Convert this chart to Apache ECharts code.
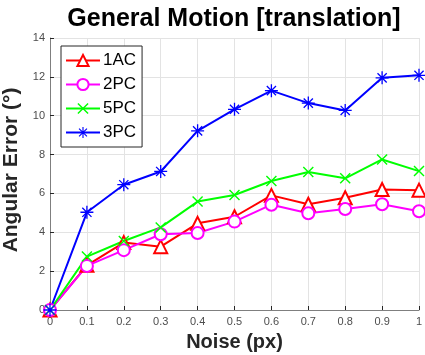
<!DOCTYPE html>
<html>
<head>
<meta charset="utf-8">
<script src="https://cdn.jsdelivr.net/npm/echarts@6/dist/echarts.min.js"></script>
<style>html,body{margin:0;padding:0;background:#fff}#c{width:425px;height:355px}</style>
</head>
<body>
<div id="c"></div>
<script>
var xLabels = ['0','0.1','0.2','0.3','0.4','0.5','0.6','0.7','0.8','0.9','1'];
var s1AC = [0, 2.3, 3.47, 3.26, 4.46, 4.8, 5.9, 5.44, 5.78, 6.2, 6.17];
var s2PC = [0, 2.27, 3.08, 3.9, 3.96, 4.55, 5.42, 4.98, 5.2, 5.44, 5.08];
var s5PC = [0, 2.75, 3.55, 4.25, 5.58, 5.92, 6.64, 7.1, 6.78, 7.75, 7.15];
var s3PC = [0, 5.03, 6.45, 7.13, 9.22, 10.33, 11.29, 10.65, 10.27, 11.95, 12.08];
var yTicks = {min: 0, max: 14, interval: 2};

var xPath = 'path://M3.64,2.22L17.78,16.36L16.36,17.78L2.22,3.64Z M17.78,3.64L3.64,17.78L2.22,16.36L16.36,2.22Z';
var starPath = 'path://M0,9L20,9L20,11L0,11Z M9,0L11,0L11,20L9,20Z M3.64,2.22L17.78,16.36L16.36,17.78L2.22,3.64Z M17.78,3.64L3.64,17.78L2.22,16.36L16.36,2.22Z';

function mk(name, data, color, symbol, size, hollow) {
  return {
    name: name, type: 'line', data: data, symbol: symbol, symbolSize: size,
    showAllSymbol: true,
    lineStyle: {color: color, width: 2},
    itemStyle: hollow ? {color: '#fff', borderColor: color, borderWidth: 2, opacity: 1} : {color: color, borderWidth: 0},
    emphasis: {disabled: true},
    animation: false
  };
}

var chart = echarts.init(document.getElementById('c'), null, {renderer: 'canvas'});
chart.setOption({
  animation: false,
  backgroundColor: '#fff',
  title: {
    text: 'General Motion [translation]',
    left: 229, textAlign: 'center', top: 2,
    textStyle: {fontFamily: 'Liberation Sans, Arial, sans-serif', fontWeight: 'bold', fontSize: 25, color: '#000'}
  },
  grid: {left: 50, right: 6, top: 38, bottom: 45, containLabel: false, outerBoundsMode: 'none'},
  legend: {
    orient: 'vertical', left: 61, top: 46,
    data: ['1AC', '2PC', '5PC', '3PC'],
    backgroundColor: '#fff', borderColor: '#262626', borderWidth: 1,
    padding: [6, 6, 6, 4], itemGap: 7, itemWidth: 34, itemHeight: 14,
    textStyle: {fontFamily: 'Liberation Sans, Arial, sans-serif', fontSize: 17, color: '#000', padding: [0, 0, 0, -2]}
  },
  xAxis: {
    type: 'category', data: xLabels, boundaryGap: false,
    name: 'Noise (px)', nameLocation: 'middle', nameGap: 22,
    nameTextStyle: {fontFamily: 'Liberation Sans, Arial, sans-serif', fontWeight: 'bold', fontSize: 20, color: '#262626'},
    axisLine: {lineStyle: {color: '#7f7f7f', width: 1}},
    axisTick: {inside: true, length: 4, alignWithLabel: true, lineStyle: {color: '#262626'}},
    axisLabel: {fontFamily: 'Liberation Sans, Arial, sans-serif', fontSize: 11, color: '#4d4d4d', margin: 6},
    splitLine: {show: true, lineStyle: {color: '#e3e3e3', width: 1}}
  },
  yAxis: {
    type: 'value', min: yTicks.min, max: yTicks.max, interval: yTicks.interval,
    name: 'Angular Error (°)', nameLocation: 'middle', nameGap: 22, nameRotate: 90,
    nameTextStyle: {fontFamily: 'Liberation Sans, Arial, sans-serif', fontWeight: 'bold', fontSize: 21, color: '#262626', padding: [0, 0, 0, 8]},
    axisLine: {show: true, lineStyle: {color: '#7f7f7f', width: 1}},
    axisTick: {show: true, inside: true, length: 4, lineStyle: {color: '#262626'}},
    axisLabel: {fontFamily: 'Liberation Sans, Arial, sans-serif', fontSize: 11, color: '#4d4d4d', margin: 5},
    splitLine: {show: true, lineStyle: {color: '#e3e3e3', width: 1}}
  },
  series: [
    mk('1AC', s1AC, '#ff0000', 'triangle', 13, true),
    mk('2PC', s2PC, '#ff00ff', 'circle', 12, true),
    mk('5PC', s5PC, '#00ff00', xPath, 11, false),
    mk('3PC', s3PC, '#0000ff', starPath, 13, false)
  ]
});
</script>
</body>
</html>
